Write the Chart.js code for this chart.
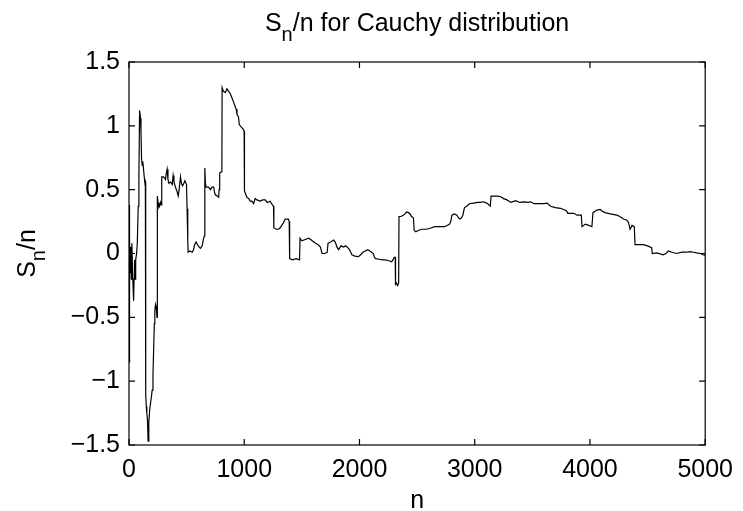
<!DOCTYPE html>
<html>
<head>
<meta charset="utf-8">
<title>Sn/n for Cauchy distribution</title>
<script src="https://cdn.jsdelivr.net/npm/chart.js@4.4.1/dist/chart.umd.min.js"></script>
<style>
  html, body { margin: 0; padding: 0; background: #fff; }
  #container { width: 743px; height: 511px; }
</style>
</head>
<body>
<div id="container"><canvas id="myChart" width="743" height="511"></canvas></div>
<script>
// running mean S_n/n (n, value)
let nValues = [
  1, 2, 4, 8, 12, 16, 20, 25, 30, 35, 40, 44, 48, 53, 58, 66, 72, 80, 86, 92, 100, 104, 109, 115, 120, 129, 138, 142,
  145, 150, 155, 160, 166, 172, 180, 187, 195, 201, 208, 216, 220, 224, 230, 236, 243,
  246, 252, 259, 266, 273, 280, 284, 300, 317, 322, 331, 338, 346, 360, 375, 383, 390, 403, 415, 427, 435, 447, 455, 465, 476, 485, 499,
  504, 510, 513, 530, 548, 560, 570, 582, 600, 620, 635, 648, 655,
  658, 663, 669, 690, 706, 720, 735, 742, 749, 765, 778, 782, 787, 801, 806,
  808, 820, 836, 850, 865, 880, 893, 910, 922, 930, 937, 950, 957, 975, 994, 999,
  1002, 1023, 1040, 1052, 1066, 1081, 1095, 1110, 1138, 1160, 1182, 1200, 1225, 1245, 1254,
  1257, 1280, 1297, 1310, 1326, 1340, 1355, 1383, 1390,
  1394, 1420, 1450, 1480,
  1484, 1500, 1530, 1560, 1590, 1618, 1640, 1661, 1675, 1700, 1720, 1727, 1750, 1776, 1790, 1805, 1819, 1840, 1862, 1880,
  1905, 1920, 1934, 1960, 1991, 2010, 2030, 2050, 2072, 2090, 2120, 2130, 2140, 2170, 2200, 2221, 2250, 2279, 2290, 2302, 2310,
  2313, 2320, 2331, 2340,
  2343, 2360, 2379, 2395, 2408, 2425, 2440, 2451, 2468,
  2475, 2490, 2508, 2540, 2580, 2620, 2652, 2700, 2738, 2760, 2782, 2792, 2802, 2825, 2845, 2868, 2885, 2897, 2911, 2930,
  2954, 2990, 3026, 3050, 3070, 3090, 3113, 3135,
  3142, 3170, 3200, 3227, 3250, 3280, 3313, 3356, 3390, 3428, 3460, 3486, 3515, 3560, 3600, 3629, 3658, 3700, 3745, 3796,
  3808, 3840, 3860, 3888, 3925,
  3931, 3960, 3990, 4017,
  4026, 4061, 4089, 4110, 4132, 4176, 4233, 4260, 4291, 4320, 4334, 4348, 4365, 4385,
  4391, 4430, 4463, 4500, 4535,
  4541, 4580, 4636, 4660, 4679, 4710, 4751, 4800, 4840, 4866, 4900, 4924, 4960, 4981, 5000
];
let snValues = [
  -0.85, 0.38, 0.0, 0.1, -0.15, 0.05, -0.2, 0.08, -0.1, -0.25, -0.37, -0.2, -0.05, -0.2, -0.05, 0.0, 0.08, 0.37, 0.61, 1.12, 1.06, 0.95, 0.74, 0.69, 0.72, 0.63, 0.55, 0.56,
  -1.1, -1.2, -1.25, -1.3, -1.47, -1.32, -1.22, -1.17, -1.12, -1.07, -0.95, -0.68, -0.55, -0.45, -0.40, -0.42, -0.50,
  0.45, 0.40, 0.36, 0.37, 0.40, 0.38, 0.60, 0.60, 0.58, 0.62, 0.66, 0.58, 0.55, 0.56, 0.54, 0.61, 0.56, 0.52, 0.49, 0.45, 0.50, 0.60, 0.55, 0.53, 0.55, 0.57, 0.54,
  0.35, 0.10, 0.01, 0.02, 0.01, 0.03, 0.07, 0.09, 0.06, 0.04, 0.06, 0.12, 0.14,
  0.67, 0.55, 0.52, 0.52, 0.50, 0.52, 0.52, 0.48, 0.46, 0.45, 0.44, 0.50, 0.63, 0.64, 0.66,
  1.30, 1.27, 1.26, 1.29, 1.27, 1.25, 1.22, 1.18, 1.15, 1.13, 1.09, 1.07, 1.01, 0.99, 0.97, 0.96,
  0.49, 0.44, 0.43, 0.41, 0.41, 0.39, 0.43, 0.42, 0.41, 0.42, 0.42, 0.40, 0.41, 0.38, 0.37,
  0.20, 0.19, 0.19, 0.20, 0.22, 0.24, 0.27, 0.27, 0.25,
  -0.04, -0.05, -0.04, -0.05,
  0.12, 0.10, 0.11, 0.12, 0.10, 0.08, 0.07, 0.05, 0.00, 0.00, 0.01, 0.08, 0.09, 0.105, 0.09, 0.05, 0.03, 0.06, 0.05, 0.06,
  0.04, 0.02, -0.01, -0.02, -0.025, -0.01, 0.01, 0.02, 0.03, 0.02, 0.00, -0.03, -0.04, -0.045, -0.05, -0.05, -0.055, -0.065, -0.05, -0.03, -0.03,
  -0.24, -0.23, -0.25, -0.23,
  0.29, 0.29, 0.30, 0.31, 0.325, 0.32, 0.31, 0.29, 0.28,
  0.18, 0.17, 0.18, 0.19, 0.19, 0.20, 0.21, 0.21, 0.21, 0.22, 0.23, 0.25, 0.30, 0.31, 0.30, 0.27, 0.28, 0.30, 0.36, 0.37,
  0.39, 0.395, 0.40, 0.40, 0.405, 0.40, 0.39, 0.37,
  0.45, 0.45, 0.45, 0.445, 0.43, 0.42, 0.40, 0.414, 0.40, 0.405, 0.40, 0.405, 0.39, 0.39, 0.39, 0.395, 0.37, 0.36, 0.354, 0.335,
  0.315, 0.315, 0.315, 0.30, 0.30,
  0.21, 0.23, 0.22, 0.21,
  0.32, 0.34, 0.345, 0.33, 0.32, 0.31, 0.30, 0.29, 0.27, 0.26, 0.245, 0.19, 0.22, 0.21,
  0.07, 0.07, 0.07, 0.06, 0.045,
  0.0, 0.005, -0.01, 0.0, 0.02, 0.01, 0.0, 0.01, 0.01, 0.015, 0.01, 0.005, 0.0, -0.01, -0.015
];
let xTicks = [0, 1000, 2000, 3000, 4000, 5000];
let yTicks = [-1.5, -1, -0.5, 0, 0.5, 1, 1.5];

let fontFamily = '"Liberation Sans", Arial, Helvetica, sans-serif';
let fontSize = 25;
let inkColor = '#000';

Chart.defaults.color = inkColor;
Chart.defaults.font.family = fontFamily;
Chart.defaults.font.size = fontSize;

// draws "S" + subscript "n" + rest, centered on x, baseline at y
function drawSubText(ctx, parts, x, y) {
  let total = 0;
  parts.forEach(p => {
    ctx.font = (p.sub ? 20 : fontSize) + 'px ' + fontFamily;
    p.w = ctx.measureText(p.t).width;
    total += p.w;
  });
  let cx = x - total / 2;
  parts.forEach(p => {
    ctx.font = (p.sub ? 20 : fontSize) + 'px ' + fontFamily;
    ctx.fillText(p.t, cx, y + (p.sub ? 10 : 0));
    cx += p.w;
  });
}

// matlab style box, inward ticks on all four sides, and the axis labels
let matlabFrame = {
  id: 'matlabFrame',
  afterDatasetsDraw(chart) {
    let ctx = chart.ctx;
    let a = chart.chartArea;
    let xs = chart.scales.x;
    let ys = chart.scales.y;
    let tick = 6;
    ctx.save();
    ctx.strokeStyle = inkColor;
    ctx.lineWidth = 1.2;
    ctx.strokeRect(a.left, a.top, a.right - a.left, a.bottom - a.top);
    ctx.beginPath();
    xTicks.forEach(v => {
      let px = xs.getPixelForValue(v);
      ctx.moveTo(px, a.bottom); ctx.lineTo(px, a.bottom - tick);
      ctx.moveTo(px, a.top); ctx.lineTo(px, a.top + tick);
    });
    yTicks.forEach(v => {
      let py = ys.getPixelForValue(v);
      ctx.moveTo(a.left, py); ctx.lineTo(a.left + tick, py);
      ctx.moveTo(a.right, py); ctx.lineTo(a.right - tick, py);
    });
    ctx.stroke();

    ctx.fillStyle = inkColor;
    ctx.textBaseline = 'alphabetic';
    ctx.textAlign = 'left';
    drawSubText(ctx, [{t: 'S'}, {t: 'n', sub: true}, {t: '/n for Cauchy distribution'}], (a.left + a.right) / 2, 31);

    // x axis label
    ctx.font = fontSize + 'px ' + fontFamily;
    ctx.textAlign = 'center';
    ctx.fillText('n', (a.left + a.right) / 2, 508);
    ctx.textAlign = 'left';

    ctx.translate(35, (a.top + a.bottom) / 2);
    ctx.rotate(-Math.PI / 2);
    drawSubText(ctx, [{t: 'S'}, {t: 'n', sub: true}, {t: '/n'}], 0, 0);
    ctx.restore();
  }
};

let ctx = document.getElementById('myChart').getContext('2d');
let chart = new Chart(ctx, {
  type: 'line',
  data: {
    datasets: [{
      label: 'Sn/n',
      data: nValues.map((n, i) => ({x: n, y: snValues[i]})),
      borderColor: inkColor,
      borderWidth: 1.2,
      pointRadius: 0,
      tension: 0,
      fill: false
    }]
  },
  options: {
    responsive: false,
    animation: false,
    layout: { padding: { top: 62, right: 34, left: 0, bottom: 0 } },
    plugins: {
      legend: { display: false },
      title: { display: false },
      tooltip: { enabled: false }
    },
    scales: {
      x: {
        type: 'linear',
        min: 0,
        max: 5000,
        afterBuildTicks: s => { s.ticks = xTicks.map(v => ({value: v})); },
        afterFit: s => { s.height = 66; },
        grid: { display: false, drawTicks: false },
        border: { display: false },
        ticks: { padding: 10, maxRotation: 0, callback: v => String(v) }
      },
      y: {
        type: 'linear',
        min: -1.5,
        max: 1.5,
        afterBuildTicks: s => { s.ticks = yTicks.map(v => ({value: v})); },
        afterFit: s => { s.width = 129; },
        grid: { display: false, drawTicks: false },
        border: { display: false },
        ticks: { padding: 9, callback: v => String(v).replace('-', '\u2212') }
      }
    }
  },
  plugins: [matlabFrame]
});
</script>
</body>
</html>
